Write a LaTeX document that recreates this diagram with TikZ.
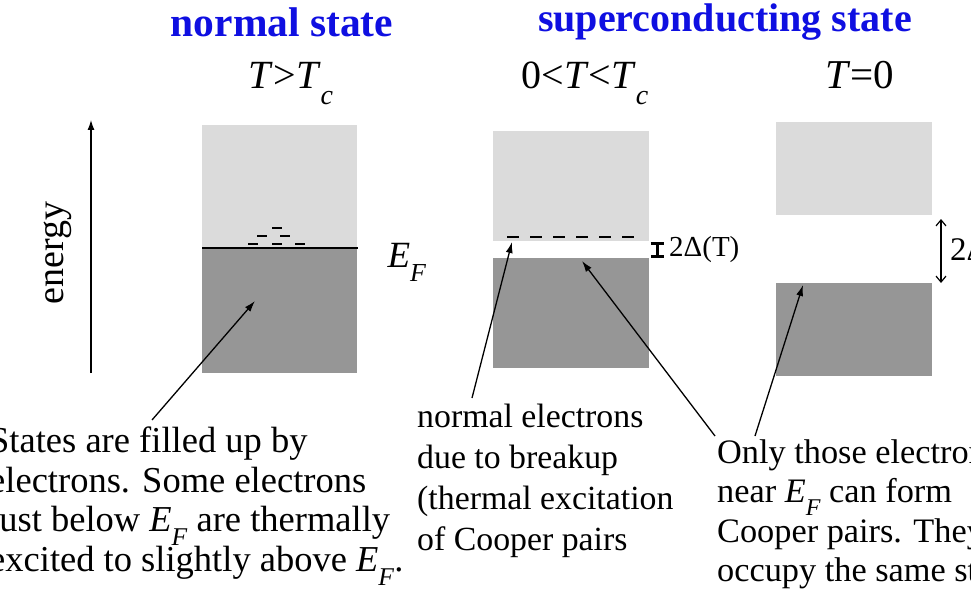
\documentclass[tikz,border=0pt]{standalone}
\usepackage{graphicx}
\usepackage{fontspec}
\setmainfont{Liberation Serif}
\usetikzlibrary{arrows.meta}

\definecolor{bandlight}{gray}{0.86}
\definecolor{banddark}{gray}{0.59}
\definecolor{titleblue}{RGB}{15,15,225}

\newcommand{\fs}[2]{\fontsize{#1}{#2}\selectfont}
\newcommand{\lowsub}[1]{\raisebox{-0.38em}{\scalebox{0.7}{\textit{#1}}}}
\newcommand{\EF}{\textit{E}\lowsub{F}}

\tikzset{
  pointer/.style={-{Latex[length=11pt,width=7pt]}, line width=1.3pt},
  note/.style={anchor=north west, align=left, inner sep=0pt},
  heading/.style={font=\bfseries\fs{40}{44}, text=titleblue},
  templabel/.style={anchor=base, inner sep=0pt, font=\fs{40}{44}},
}

\begin{document}
\begin{tikzpicture}[x=1pt,y=-1pt]
    \clip (0,0) rectangle (971,591);

    % headings
    \node[heading, font=\bfseries\fs{41.5}{44}] (normalTitle) at (282,22) {normal state};
    \node[heading] (superTitle) at (725,22) {superconducting state};
    \node[templabel] (tempAbove) at (291,89) {\textit{T}>\textit{T}\lowsub{c}};
    \node[templabel] (tempBetween) at (585,89) {0<\textit{T}<\textit{T}\lowsub{c}};
    \node[templabel, font=\fs{41}{44}] (tempZero) at (860,89) {\textit{T}=0};

    % energy axis
    \coordinate (axisLow) at (91,373);
    \coordinate (axisHigh) at (91,120);
    \draw[-{Latex[length=10pt,width=7pt]}, line width=1.3pt] (axisLow) -- (axisHigh);
    \node[rotate=90, font=\fs{38}{40}] (energyLabel) at (58,253) {energy};

    % normal state bands
    \fill[bandlight] (202,125) rectangle (357,248);
    \fill[banddark] (202,248) rectangle (357,373);
    \draw[line width=2.8pt] (202,248) -- (358,248);
    \foreach \x/\y in {277/228, 262/236, 285/236, 253/244, 277/244, 300/244}
        \draw[line width=2.6pt] (\x-5,\y) -- (\x+5,\y);
    \node[font=\fs{37}{40}, anchor=base west] (fermiLabel) at (384,267) {\EF};

    % 0<T<Tc bands
    \fill[bandlight] (493,131) rectangle (649,241);
    \fill[banddark] (493,258) rectangle (649,368);
    \draw[line width=2.6pt, dash pattern=on 12pt off 11pt] (507,237) -- (636,237);
    \coordinate (gapTop) at (657,242);
    \coordinate (gapBottom) at (657,258);
    \draw[{Bar[width=13pt]}-{Bar[width=13pt]}, line width=3pt] (gapTop) -- (gapBottom);
    \node[font=\fs{29}{32}, anchor=west, inner sep=0pt] (gapLabel) at (669,250) {2Δ(T)};

    % T=0 bands
    \fill[bandlight] (776,122) rectangle (932,215);
    \fill[banddark] (776,283) rectangle (932,376);
    \coordinate (fullTop) at (941,219);
    \coordinate (fullBottom) at (941,283);
    \draw[{Straight Barb[length=6pt,width=10pt]}-{Straight Barb[length=6pt,width=10pt]}, line width=1.2pt] (fullTop) -- (fullBottom);
    \node[font=\fs{33}{36}, anchor=west, inner sep=0pt] (fullGapLabel) at (950,250) {2Δ};

    % notes
    \node[note, font=\fs{36.5}{39.5}] (statesNote) at (-11,427) {States are filled up by\\electrons. Some electrons\\just below \EF{} are thermally\\excited to slightly above \EF.};
    \node[note, font=\fs{33.8}{41}] (breakupNote) at (417,404) {normal electrons\\due to breakup\\(thermal excitation\\of Cooper pairs};
    \node[note, font=\fs{34.3}{39.5}] (pairNote) at (717,439) {Only those electrons\\near \EF{} can form\\Cooper pairs. They\\occupy the same state};

    % pointers
    \coordinate (statesTail) at (152,420);
    \coordinate (statesHead) at (255,301);
    \coordinate (breakupTail) at (472,398);
    \coordinate (breakupHead) at (512,242);
    \coordinate (gapTail) at (715,436);
    \coordinate (gapHead) at (582,261);
    \coordinate (pairTail) at (755,436);
    \coordinate (pairHead) at (803,285);
    \draw[pointer] (statesTail) -- (statesHead);
    \draw[pointer] (breakupTail) -- (breakupHead);
    \draw[pointer] (gapTail) -- (gapHead);
    \draw[pointer] (pairTail) -- (pairHead);
\end{tikzpicture}
\end{document}
